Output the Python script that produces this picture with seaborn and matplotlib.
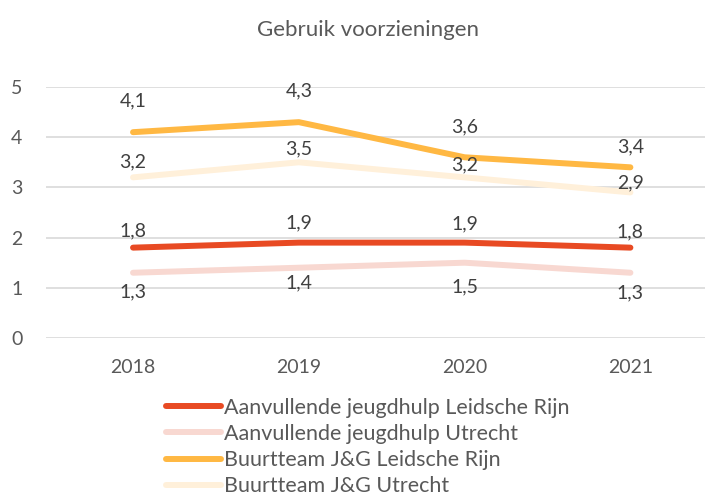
import matplotlib
matplotlib.use("Agg")
import matplotlib.pyplot as plt
import seaborn as sns
import pandas as pd

years = ["2018", "2019", "2020", "2021"]
series_names = [
    "Aanvullende jeugdhulp Leidsche Rijn",
    "Aanvullende jeugdhulp Utrecht",
    "Buurtteam J&G Leidsche Rijn",
    "Buurtteam J&G Utrecht",
]
aj_leidsche = [1.8, 1.9, 1.9, 1.8]
aj_utrecht = [1.3, 1.4, 1.5, 1.3]
bt_leidsche = [4.1, 4.3, 3.6, 3.4]
bt_utrecht = [3.2, 3.5, 3.2, 2.9]
colors = ["#E84A23", "#F8D8D1", "#FFB843", "#FFF0DA"]
title = "Gebruik voorzieningen"

values = [aj_leidsche, aj_utrecht, bt_leidsche, bt_utrecht]
rows = []
for name, vals in zip(series_names, values):
    for i, (y, v) in enumerate(zip(years, vals)):
        rows.append({"idx": i, "jaar": y, "serie": name, "waarde": v})
df = pd.DataFrame(rows)

sns.set_theme(style="white")
plt.rcParams["font.family"] = ["Lato", "DejaVu Sans"]

fig = plt.figure(figsize=(7.05, 4.97), dpi=100)
ax = fig.add_axes([46 / 705, 1 - 338 / 497, 1 - 46 / 705, (338 - 87) / 497])

sns.lineplot(data=df, x="idx", y="waarde", hue="serie", hue_order=series_names,
             palette=colors, linewidth=4.3, ax=ax, legend=True,
             solid_capstyle="round", sort=False)
for ln in ax.lines:
    ln.set_solid_joinstyle("round")

# data labels (offsets in pixels, label centre relative to point)
offsets = {
    0: [-17, -20, -19, -16],
    1: [19, 15, 24, 20],
    2: [-31, -31, -30, -20],
    3: [-15, -13, -12, -10],
}
for s, vals in enumerate(values):
    for i, v in enumerate(vals):
        ax.annotate(f"{v:.1f}".replace(".", ","), (i, v), xytext=(0, -offsets[s][i]),
                    textcoords="offset pixels", ha="center", va="center",
                    fontsize=14, color="#404040")

ax.set_xlim(-0.525, 3.45)
ax.set_ylim(0, 5)
ax.set_yticks([0, 1, 2, 3, 4, 5])
ax.set_xticks(range(4))
ax.set_xticklabels(years)
ax.grid(axis="y", color="#D9D9D9", linewidth=1.2)
ax.set_axisbelow(True)
for sp in ax.spines.values():
    sp.set_visible(False)
ax.tick_params(axis="both", length=0, labelsize=14, labelcolor="#595959")
ax.tick_params(axis="y", pad=17)
ax.tick_params(axis="x", pad=15)
ax.set_xlabel("")
ax.set_ylabel("")

fig.text(368 / 705, 1 - 30 / 497, title, ha="center", va="center",
         fontsize=16, color="#595959")

handles, labels = ax.get_legend_handles_labels()
ax.legend(handles, labels, loc="upper left", bbox_to_anchor=(166 / 705, 1 - 398 / 497),
          bbox_transform=fig.transFigure, frameon=False, fontsize=15.5,
          handlelength=2.55, handletextpad=0.15, labelspacing=0.28,
          labelcolor="#595959", borderaxespad=0, borderpad=0)

fig.savefig("out.png", dpi=100)
